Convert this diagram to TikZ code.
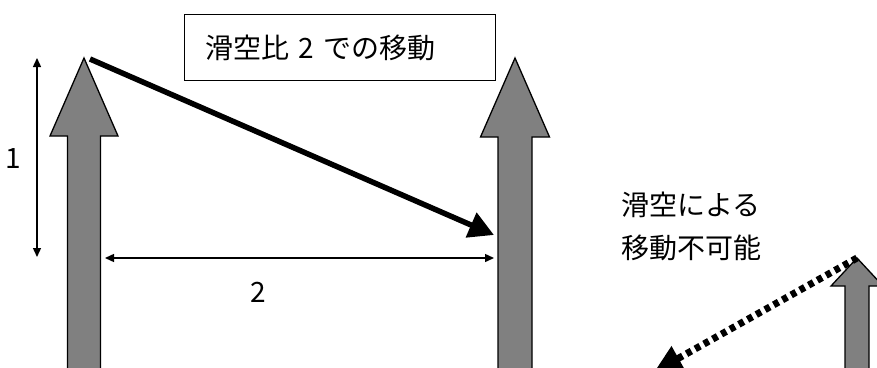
\documentclass[tikz,border=0pt]{standalone}
\usepackage{fontspec}
\setmainfont{Noto Sans CJK JP}
\usetikzlibrary{arrows.meta}
\newcommand\blockarr[5]{% center x, tip y, head base y, head half width, shaft half width
  \path[blockstyle] (#1,#2) -- (#1+#4,#3) -- (#1+#5,#3) -- (#1+#5,400) -- (#1-#5,400) -- (#1-#5,#3) -- (#1-#4,#3) -- cycle;}
\begin{document}
\begin{tikzpicture}[x=1pt,y=-1pt,
  blockstyle/.style={draw=black,fill=gray,line width=1.3pt,line join=miter},
  dimline/.style={line width=1.4pt,{Triangle[length=9pt,width=8pt]}-{Triangle[length=9pt,width=8pt]}},
  movearrow/.style={line width=5.5pt,-{Triangle[length=25pt,width=26pt]}},
  noarrow/.style={line width=7pt,dash pattern=on 5.5pt off 4.5pt,-{Triangle[length=28pt,width=26pt]}},
  lbl/.style={font=\fontsize{28pt}{43pt}\selectfont,inner sep=0pt}]
\clip (0,0) rectangle (877,367);
\fill[white] (0,0) rectangle (877,367);
% block arrows
\blockarr{84}{58}{136}{34}{16.5}
\blockarr{515}{58}{137}{34.5}{17}
\blockarr{857}{258}{286}{26}{12}
% named points
\coordinate (s1) at (90,59);
\coordinate (e1) at (494,235);
\coordinate (s2) at (857,258);
\coordinate (e2) at (654,372);
\coordinate (v1) at (37,58);
\coordinate (v2) at (37,257);
\coordinate (h1) at (105,258);
\coordinate (h2) at (494,258);
% box
\node[draw=black,line width=1.3pt,anchor=north west,minimum width=311pt,minimum height=66pt,
      text width=269pt,inner xsep=21pt,inner ysep=0pt,align=left,lbl] (box) at (184,14) {滑空比 2 での移動};
% connectors
\draw[movearrow] (s1) -- (e1);
\draw[noarrow] (s2) -- (e2);
\draw[dimline] (v1) -- (v2);
\draw[dimline] (h1) -- (h2);
% labels
\node[lbl] (one) at (13,159) {1};
\node[lbl] (two) at (258,292) {2};
\node[lbl,align=left,anchor=west] (cannot) at (621,226) {滑空による\\移動不可能};
\end{tikzpicture}
\end{document}
